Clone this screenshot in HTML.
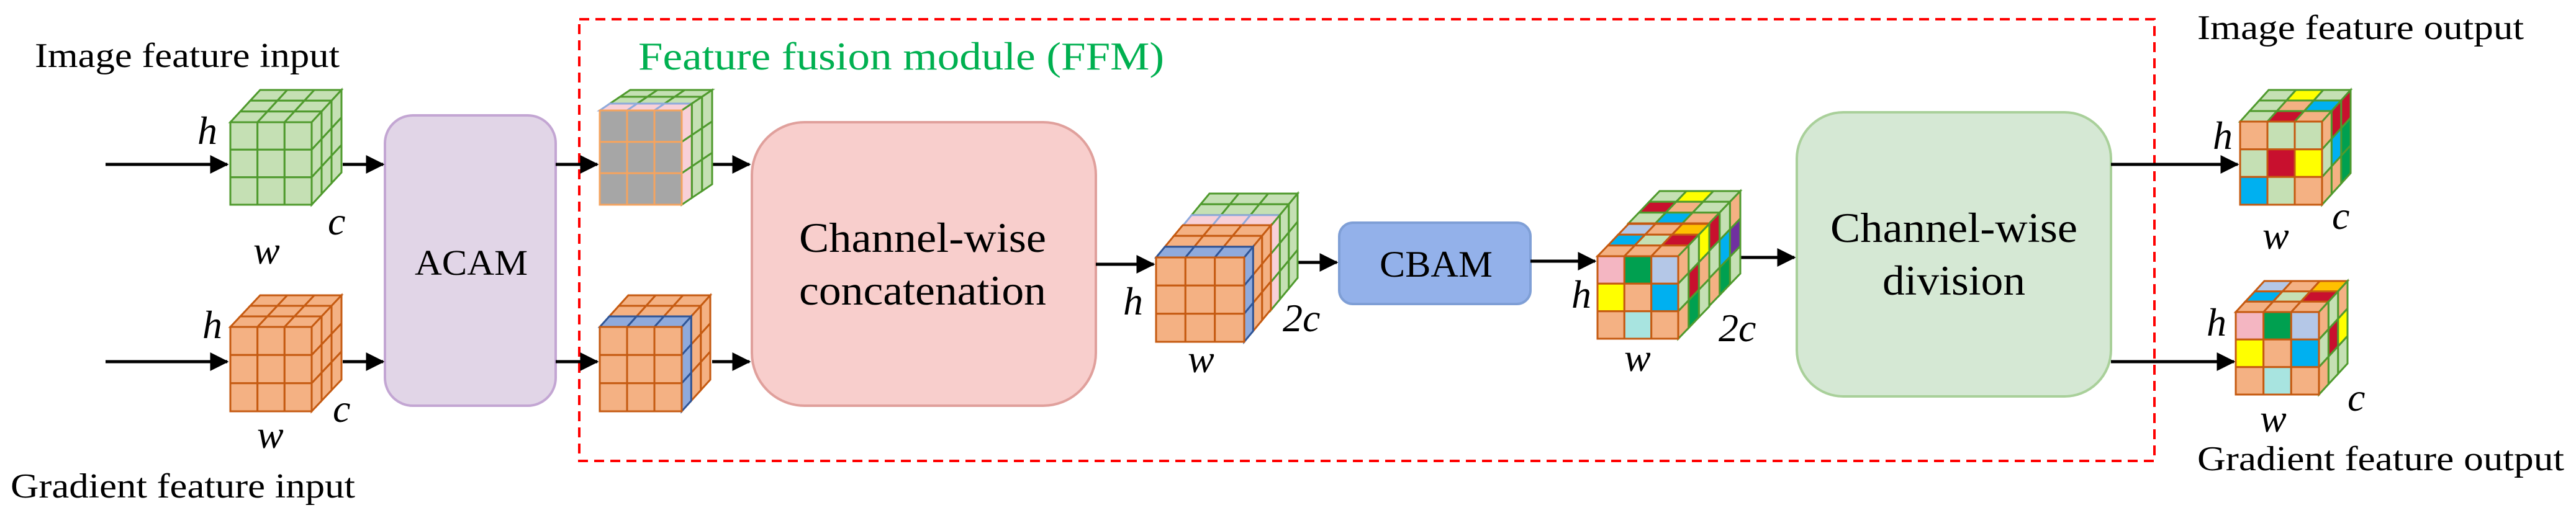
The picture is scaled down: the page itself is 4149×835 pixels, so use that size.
<!DOCTYPE html>
<html><head><meta charset="utf-8">
<style>
html,body{margin:0;padding:0;background:#fff;}
svg{display:block;}
svg text{font-family:"Liberation Serif","DejaVu Serif","Times New Roman",serif;}
</style></head>
<body>
<svg id="s" width="4149" height="835" viewBox="0 0 4149 835" xmlns="http://www.w3.org/2000/svg">
<defs>
<marker id="ah" markerWidth="6" markerHeight="6" refX="5.5" refY="3" orient="auto" markerUnits="strokeWidth">
<path d="M0,0 L6,3 L0,6 Z" fill="#000"/>
</marker>
</defs>
<rect x="933" y="31" width="2537" height="712" fill="none" stroke="#f00" stroke-width="4" stroke-dasharray="16,10"/>
<text x="1028" y="112" font-size="64" fill="#00b050" textLength="847" lengthAdjust="spacingAndGlyphs">Feature fusion module (FFM)</text>

<text x="56" y="108" font-size="56" fill="#000" textLength="491" lengthAdjust="spacingAndGlyphs">Image feature input</text>
<text x="17" y="802" font-size="56" fill="#000" textLength="555" lengthAdjust="spacingAndGlyphs">Gradient feature input</text>
<text x="3539" y="63" font-size="56" fill="#000" textLength="526" lengthAdjust="spacingAndGlyphs">Image feature output</text>
<text x="3539" y="758" font-size="56" fill="#000" textLength="591" lengthAdjust="spacingAndGlyphs">Gradient feature output</text>

<rect x="620" y="186" width="275" height="468" rx="45" fill="#e1d5e7" stroke="#c3a6d3" stroke-width="4"/>
<text x="668" y="443" font-size="58" textLength="182" lengthAdjust="spacingAndGlyphs">ACAM</text>
<rect x="1211" y="197" width="554" height="457" rx="85" fill="#f8cecc" stroke="#e0a09c" stroke-width="4"/>
<text x="1287" y="406" font-size="68" textLength="398" lengthAdjust="spacingAndGlyphs">Channel-wise</text>
<text x="1287" y="491" font-size="68" textLength="398" lengthAdjust="spacingAndGlyphs">concatenation</text>
<rect x="2157" y="359" width="308" height="131" rx="22" fill="#93b1ea" stroke="#7f9fd6" stroke-width="4"/>
<text x="2222" y="446" font-size="60" textLength="182" lengthAdjust="spacingAndGlyphs">CBAM</text>
<rect x="2894" y="181" width="506" height="458" rx="75" fill="#d5e8d4" stroke="#a9d09a" stroke-width="4"/>
<text x="2948" y="390" font-size="68" textLength="398" lengthAdjust="spacingAndGlyphs">Channel-wise</text>
<text x="3032" y="475" font-size="68" textLength="230" lengthAdjust="spacingAndGlyphs">division</text>

<g stroke="#000" stroke-width="5" marker-end="url(#ah)" fill="none">
<line x1="170" y1="265" x2="366" y2="265"/>
<line x1="170" y1="583" x2="366" y2="583"/>
<line x1="552" y1="265" x2="617" y2="265"/>
<line x1="552" y1="583" x2="617" y2="583"/>
<line x1="895" y1="265" x2="962" y2="265"/>
<line x1="895" y1="583" x2="962" y2="583"/>
<line x1="1147" y1="265" x2="1207" y2="265"/>
<line x1="1147" y1="583" x2="1207" y2="583"/>
<line x1="1765" y1="426" x2="1858" y2="426"/>
<line x1="2090" y1="423" x2="2153" y2="423"/>
<line x1="2465" y1="421" x2="2569" y2="421"/>
<line x1="2798" y1="415" x2="2890" y2="415"/>
<line x1="3400" y1="265" x2="3604" y2="265"/>
<line x1="3400" y1="583" x2="3598" y2="583"/>
</g>

<g id="cubes"></g>

<g font-style="italic" font-size="64" fill="#000">
<text x="318" y="232">h</text><text x="528" y="378">c</text><text x="408" y="425">w</text>
<text x="326" y="545">h</text><text x="536" y="680">c</text><text x="414" y="722">w</text>
<text x="1809" y="507">h</text><text x="2066" y="534">2c</text><text x="1913" y="600">w</text>
<text x="2531" y="496">h</text><text x="2768" y="550">2c</text><text x="2616" y="598">w</text>
<text x="3564" y="240">h</text><text x="3756" y="369">c</text><text x="3644" y="401">w</text>
<text x="3554" y="541">h</text><text x="3781" y="662">c</text><text x="3640" y="696">w</text>
</g>
</svg>
<script>
(function(){
var NS="http://www.w3.org/2000/svg",g=document.getElementById("cubes");
function poly(pts,fill,stroke){var p=document.createElementNS(NS,"polygon");
p.setAttribute("points",pts.map(function(a){return a[0].toFixed(1)+","+a[1].toFixed(1)}).join(" "));
p.setAttribute("fill",fill);p.setAttribute("stroke",stroke);p.setAttribute("stroke-width","3");g.appendChild(p);}
function arr(v){return Array.isArray(v)?v:[v,v,v,v,v,v,v,v,v];}
function col(a,i){return a[i%a.length];}
function cube(x,y,w,h,dx,dy,F,T,S,st,tst,sst){
F=arr(F);T=arr(T);S=arr(S);tst=tst||st;sst=sst||st;
var cw=w/3,ch=h/3,ddx=dx/3,ddy=dy/3;
for(var k=2;k>=0;k--)for(var i=0;i<3;i++){
var x0=x+i*cw+k*ddx,y0=y-k*ddy;
poly([[x0,y0],[x0+cw,y0],[x0+cw+ddx,y0-ddy],[x0+ddx,y0-ddy]],col(T,k*3+i),Array.isArray(tst)?tst[k*3+i]:tst);}
for(var k=2;k>=0;k--)for(var j=0;j<3;j++){
var x0=x+w+k*ddx,y0=y+j*ch-k*ddy;
poly([[x0,y0],[x0+ddx,y0-ddy],[x0+ddx,y0-ddy+ch],[x0,y0+ch]],col(S,j*3+k),Array.isArray(sst)?sst[j*3+k]:sst);}
for(var j=0;j<3;j++)for(var i=0;i<3;i++){
var x0=x+i*cw,y0=y+j*ch;
poly([[x0,y0],[x0+cw,y0],[x0+cw,y0+ch],[x0,y0+ch]],col(F,j*3+i),st);}
}
var G="#c5e0b4",GS="#4f9a2d",O="#f4b183",OS="#c55a11",GR="#a6a6a6",B="#8faadc",BS="#2f5597",P="#f8d0d8";
cube(371,197,131,133,48,52,G,G,G,GS);
cube(371,527,131,136,48,51,O,O,O,OS);
cube(966,178,132,152,49,33,GR,[P,P,P,G,G,G,G,G,G],[P,G,G,P,G,G,P,G,G],"#f4a460",["#8faadc","#8faadc","#8faadc",GS,GS,GS,GS,GS,GS],GS);
cube(966,527,132,136,46,51,O,[B,B,B,O,O,O,O,O,O],[B,O,O,B,O,O,B,O,O],OS,[BS,BS,BS,OS,OS,OS,OS,OS,OS],[BS,OS,OS,BS,OS,OS,BS,OS,OS]);
cube(1905,364,142,136,43,52,GR,[P,P,P,G,G,G,G,G,G],[P,G,G,P,G,G,P,G,G],"#f4a460",[B,B,B,GS,GS,GS,GS,GS,GS],GS);
cube(1862,415,142,136,43,52,O,[B,B,B,O,O,O,O,O,O],[B,O,O,B,O,O,B,O,O],OS,[BS,BS,BS,OS,OS,OS,OS,OS,OS],[BS,OS,OS,BS,OS,OS,BS,OS,OS]);
var R="#c8102e",Y="#ffff00",GD="#00a050",SB="#00b0f0",LB="#b4c7e7",PU="#7030a0",PK="#f4b6c2",TQ="#a8e4e0",YO="#ffc000";
cube(2623,360,130,133,50,52,[O,G,G,G,R,Y,SB,G,O],[G,SB,O,R,O,G,G,Y,G],[R,G,O,G,SB,PU,O,GD,G],OS,GS,GS);
cube(2573,413,130,133,50,52,[PK,GD,LB,Y,O,SB,O,TQ,O],[O,O,O,SB,G,R,LB,O,YO],[O,G,Y,G,R,O,O,GD,G],OS,OS,GS);
cube(3608,196,132,134,46,51,[O,G,G,G,R,Y,SB,G,O],[G,R,O,G,O,SB,G,Y,G],[O,R,R,G,SB,GD,O,O,GD],OS,GS,GS);
cube(3601,503,134,133,46,50,[PK,GD,LB,Y,O,SB,O,TQ,O],[O,O,O,SB,G,R,LB,O,YO],[O,G,O,G,R,Y,O,G,G],OS,OS,GS);
})();
</script>
</body></html>
